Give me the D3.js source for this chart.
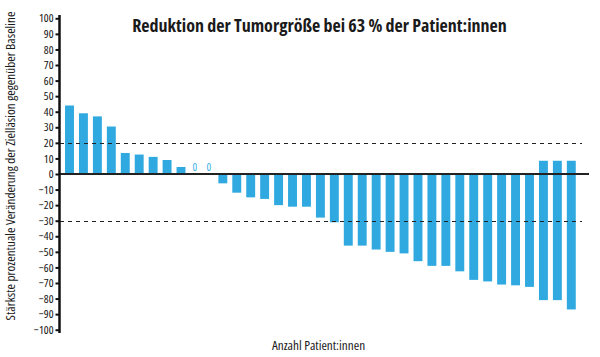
<!DOCTYPE html>
<html><head><meta charset="utf-8">
<script src="https://cdn.jsdelivr.net/npm/d3@7"></script>
<style>
body{margin:0;background:#fff;}
text{font-family:"Open Sans","Liberation Sans Narrow",sans-serif;font-stretch:75%;}
</style></head>
<body><svg id="c" width="600" height="357"></svg>
<script>
const title = "Reduktion der Tumorgröße bei 63 % der Patient:innen";
const yTitle = "Stärkste prozentuale Veränderung der Zielläsion gegenüber Baseline";
const xTitle = "Anzahl Patient:innen";
const patients = d3.range(1, 38);
const values = [44, 39, 37, 30.5, 13.5, 12.5, 11, 9, 4.5, 0, 0,
  -6, -12, -15, -16, -20, -21, -21, -28, -31, -46, -46, -48.5, -50,
  -51, -56, -59, -59, -62.5, -68, -69, -71, -71.5, -72.5, -81, -81, -87];
const extraUp = [0,0,0,0,0,0,0,0,0,0,0, 0,0,0,0,0,0,0,0,0,0,0,0,0,
  0,0,0,0,0,0,0,0,0,0, 8.5, 8.5, 8.5];
const yTicks = d3.range(-100, 101, 10);
const refLines = [20, -30];

const svg = d3.select("#c");
const x = d3.scaleBand().domain(patients).range([62.53, 578.27]).paddingInner(0.36).paddingOuter(0.18);
const y = d3.scaleLinear().domain([-100, 100]).range([329.7, 18.3]);

// bars
svg.append("g").selectAll("rect").data(patients).join("rect")
  .attr("x", d => x(d))
  .attr("width", x.bandwidth())
  .attr("y", (d, i) => y(Math.max(values[i], 0) + extraUp[i]))
  .attr("height", (d, i) => Math.abs(y(Math.max(values[i], 0) + extraUp[i]) - y(Math.min(values[i], 0))))
  .attr("fill", "#2fa9e0");

// zero labels
svg.append("g").selectAll("text").data(patients.filter((d, i) => values[i] === 0)).join("text")
  .attr("x", d => x(d) + x.bandwidth() / 2)
  .attr("y", y(0) - 3)
  .attr("text-anchor", "middle")
  .attr("font-size", 11)
  .attr("fill", "#3db0e6")
  .text("0");

// reference dashed lines
svg.append("g").selectAll("line").data(refLines).join("line")
  .attr("x1", 60).attr("x2", 582)
  .attr("y1", d => Math.round(y(d)) + 0.5).attr("y2", d => Math.round(y(d)) + 0.5)
  .attr("stroke", "#222").attr("stroke-width", 1).attr("stroke-dasharray", "4,4");

// zero line
svg.append("line").attr("x1", 60).attr("x2", 589).attr("y1", y(0)).attr("y2", y(0))
  .attr("stroke", "#222").attr("stroke-width", 2.2);

// y axis
const ax = svg.append("g").attr("transform", "translate(59.5,0)")
  .call(d3.axisLeft(y).tickValues(yTicks).tickSize(4).tickSizeOuter(0));
ax.select(".domain").remove();
ax.selectAll(".tick line").attr("stroke", "#111").attr("stroke-width", 2);
ax.selectAll(".tick text").attr("font-size", 11.4).attr("fill", "#111").attr("x", -6)
  .style("font-family", "'Open Sans','Liberation Sans Narrow',sans-serif")
  .style("font-stretch", "87%");
svg.append("line").attr("x1", 59.5).attr("x2", 59.5).attr("y1", 15).attr("y2", 333)
  .attr("stroke", "#111").attr("stroke-width", 2.5);

// titles
svg.append("text").attr("x", 319.5).attr("y", 32).attr("text-anchor", "middle")
  .attr("font-size", 18).attr("font-weight", "bold").style("font-stretch", "77%")
  .attr("fill", "#1a1a1a").text(title);
svg.append("text").attr("x", 318.5).attr("y", 350).attr("text-anchor", "middle")
  .attr("font-size", 13.2).attr("fill", "#1a1a1a").text(xTitle);
svg.append("text").attr("transform", "translate(15,166) rotate(-90)").attr("text-anchor", "middle")
  .attr("font-size", 13.2).attr("fill", "#1a1a1a").text(yTitle);
</script></body></html>
